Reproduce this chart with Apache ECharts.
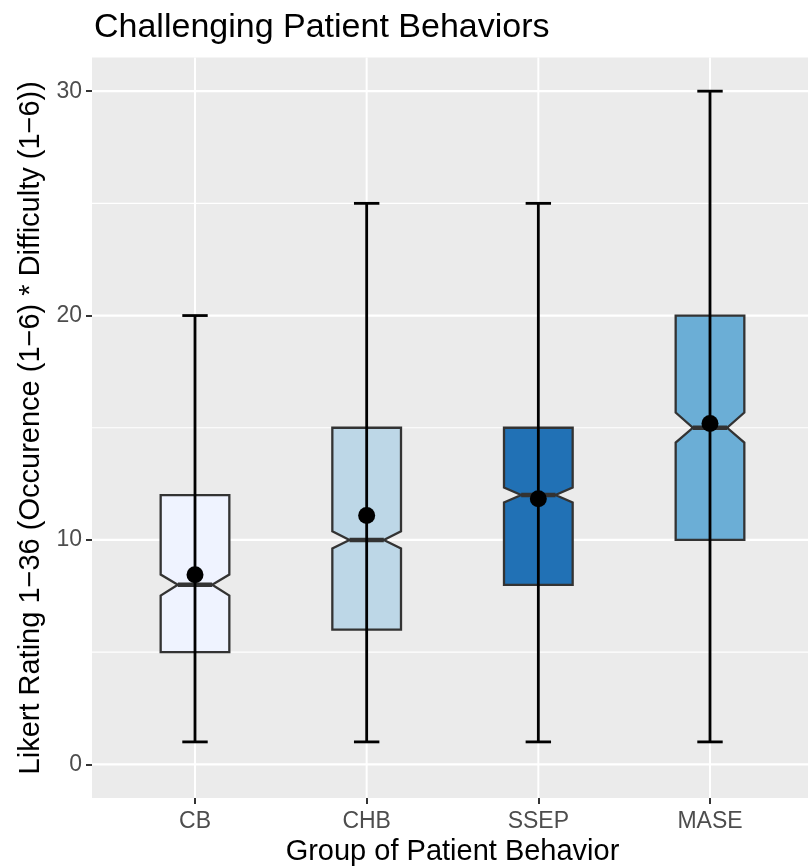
<!DOCTYPE html>
<html>
<head>
<meta charset="utf-8">
<script src="https://cdn.jsdelivr.net/npm/echarts@6/dist/echarts.min.js"></script>
<style>
  html, body { margin: 0; padding: 0; background: #fff; }
  #chart { width: 808px; height: 868px; }
</style>
</head>
<body>
<div id="chart"></div>
<script>
// groups and five-number summaries
const categories = ['CB', 'CHB', 'SSEP', 'MASE'];
const whiskerLow = [1, 1, 1, 1];
const q1 = [5, 6, 8, 10];
const median = [8, 10, 12, 15];
const q3 = [12, 15, 15, 20];
const whiskerHigh = [20, 25, 25, 30];
const notchLow = [7.52, 9.62, 11.67, 14.34];
const notchHigh = [8.46, 10.39, 12.34, 15.68];
const means = [8.45, 11.09, 11.84, 15.19];

const yTicks = [0, 10, 20, 30];
const yMinorLines = [5, 15, 25];
const xTicks = [1, 2, 3, 4];

const fills = ['#EFF3FF', '#BDD7E7', '#2171B5', '#6BAED6'];

const X_MIN = 0.4, X_MAX = 4.6, Y_MIN = -1.5, Y_MAX = 31.5;
const BOX_HALF = 0.2, NOTCH_HALF = 0.1, CAP_HALF = 0.074;
const FONT = '"Liberation Sans", Arial, Helvetica, sans-serif';

const chart = echarts.init(document.getElementById('chart'));

// 箱体（带缺口）
function renderBox(params, api) {
  const i = params.dataIndex;
  const x = i + 1;
  const pts = [
    [x - BOX_HALF, q1[i]], [x - BOX_HALF, notchLow[i]], [x - NOTCH_HALF, median[i]],
    [x - BOX_HALF, notchHigh[i]], [x - BOX_HALF, q3[i]], [x + BOX_HALF, q3[i]],
    [x + BOX_HALF, notchHigh[i]], [x + NOTCH_HALF, median[i]], [x + BOX_HALF, notchLow[i]],
    [x + BOX_HALF, q1[i]]
  ].map(p => api.coord(p));
  const m0 = api.coord([x - NOTCH_HALF, median[i]]);
  const m1 = api.coord([x + NOTCH_HALF, median[i]]);
  return {
    type: 'group',
    children: [
      {
        type: 'polygon',
        shape: { points: pts },
        style: { fill: fills[i], stroke: '#333333', lineWidth: 2.3, lineJoin: 'miter' }
      },
      {
        type: 'line',
        shape: { x1: m0[0], y1: m0[1], x2: m1[0], y2: m1[1] },
        style: { stroke: '#333333', lineWidth: 4.5 }
      }
    ]
  };
}

// 误差线（须）
function renderWhisker(params, api) {
  const i = params.dataIndex;
  const x = i + 1;
  const lo = api.coord([x, whiskerLow[i]]);
  const hi = api.coord([x, whiskerHigh[i]]);
  const loL = api.coord([x - CAP_HALF, whiskerLow[i]]);
  const loR = api.coord([x + CAP_HALF, whiskerLow[i]]);
  const hiL = api.coord([x - CAP_HALF, whiskerHigh[i]]);
  const hiR = api.coord([x + CAP_HALF, whiskerHigh[i]]);
  const st = { stroke: '#000', lineWidth: 2.8 };
  return {
    type: 'group',
    children: [
      { type: 'line', shape: { x1: lo[0], y1: lo[1], x2: hi[0], y2: hi[1] }, style: st },
      { type: 'line', shape: { x1: loL[0], y1: loL[1], x2: loR[0], y2: loR[1] }, style: st },
      { type: 'line', shape: { x1: hiL[0], y1: hiL[1], x2: hiR[0], y2: hiR[1] }, style: st }
    ]
  };
}

function hLine(width) {
  return function (params, api) {
    const v = api.value(0);
    const a = api.coord([X_MIN, v]);
    const b = api.coord([X_MAX, v]);
    return { type: 'line', shape: { x1: a[0], y1: a[1], x2: b[0], y2: b[1] }, style: { stroke: '#FFFFFF', lineWidth: width } };
  };
}
function vLine(params, api) {
  const v = api.value(0);
  const a = api.coord([v, Y_MIN]);
  const b = api.coord([v, Y_MAX]);
  return { type: 'line', shape: { x1: a[0], y1: a[1], x2: b[0], y2: b[1] }, style: { stroke: '#FFFFFF', lineWidth: 2 } };
}

const option = {
  backgroundColor: '#FFFFFF',
  animation: false,
  title: {
    text: 'Challenging Patient Behaviors',
    left: 89,
    top: 6,
    textStyle: { fontFamily: FONT, fontSize: 34, fontWeight: 'normal', color: '#000' }
  },
  grid: {
    left: 92, top: 57.5, width: 721, height: 740.5,
    outerBoundsMode: 'none', containLabel: false,
    show: true, backgroundColor: '#EBEBEB', borderWidth: 0
  },
  xAxis: {
    type: 'value', min: X_MIN, max: X_MAX,
    name: 'Group of Patient Behavior',
    nameLocation: 'middle', nameGap: 38,
    nameTextStyle: { fontFamily: FONT, fontSize: 29, color: '#000' },
    axisLine: { show: false, onZero: false },
    axisTick: { show: true, customValues: xTicks, length: 6, lineStyle: { color: '#333333', width: 2 } },
    axisLabel: {
      customValues: xTicks, margin: 12,
      formatter: v => categories[Math.round(v) - 1] || '',
      fontFamily: FONT, fontSize: 23, color: '#4D4D4D'
    },
    splitLine: { show: false }
  },
  yAxis: {
    type: 'value', min: Y_MIN, max: Y_MAX,
    name: 'Likert Rating 1\u221236 (Occurence (1\u22126) * Difficulty (1\u22126))',
    nameLocation: 'middle', nameGap: 41,
    nameTextStyle: { fontFamily: FONT, fontSize: 29, color: '#000' },
    axisLine: { show: false, onZero: false },
    axisTick: { show: true, customValues: yTicks, length: 6, lineStyle: { color: '#333333', width: 2 } },
    axisLabel: { customValues: yTicks, margin: 10, fontFamily: FONT, fontSize: 23, color: '#4D4D4D' },
    splitLine: { show: false }
  },
  series: [
    { type: 'custom', z: 1, silent: true, data: yMinorLines.map(v => [v]), renderItem: hLine(1.1) },
    { type: 'custom', z: 1, silent: true, data: yTicks.map(v => [v]), renderItem: hLine(2.2) },
    { type: 'custom', z: 1, silent: true, data: xTicks.map(v => [v]), renderItem: vLine },
    {
      type: 'custom', z: 10, silent: true,
      data: categories.map((c, i) => [i + 1, q1[i], q3[i]]),
      renderItem: renderBox
    },
    {
      type: 'custom', z: 11, silent: true,
      data: categories.map((c, i) => [i + 1, whiskerLow[i], whiskerHigh[i]]),
      renderItem: renderWhisker
    },
    {
      type: 'scatter', z: 12, silent: true,
      symbol: 'circle', symbolSize: 17,
      itemStyle: { color: '#000000', opacity: 1 },
      data: means.map((m, i) => [i + 1, m])
    }
  ]
};

chart.setOption(option);
</script>
</body>
</html>
